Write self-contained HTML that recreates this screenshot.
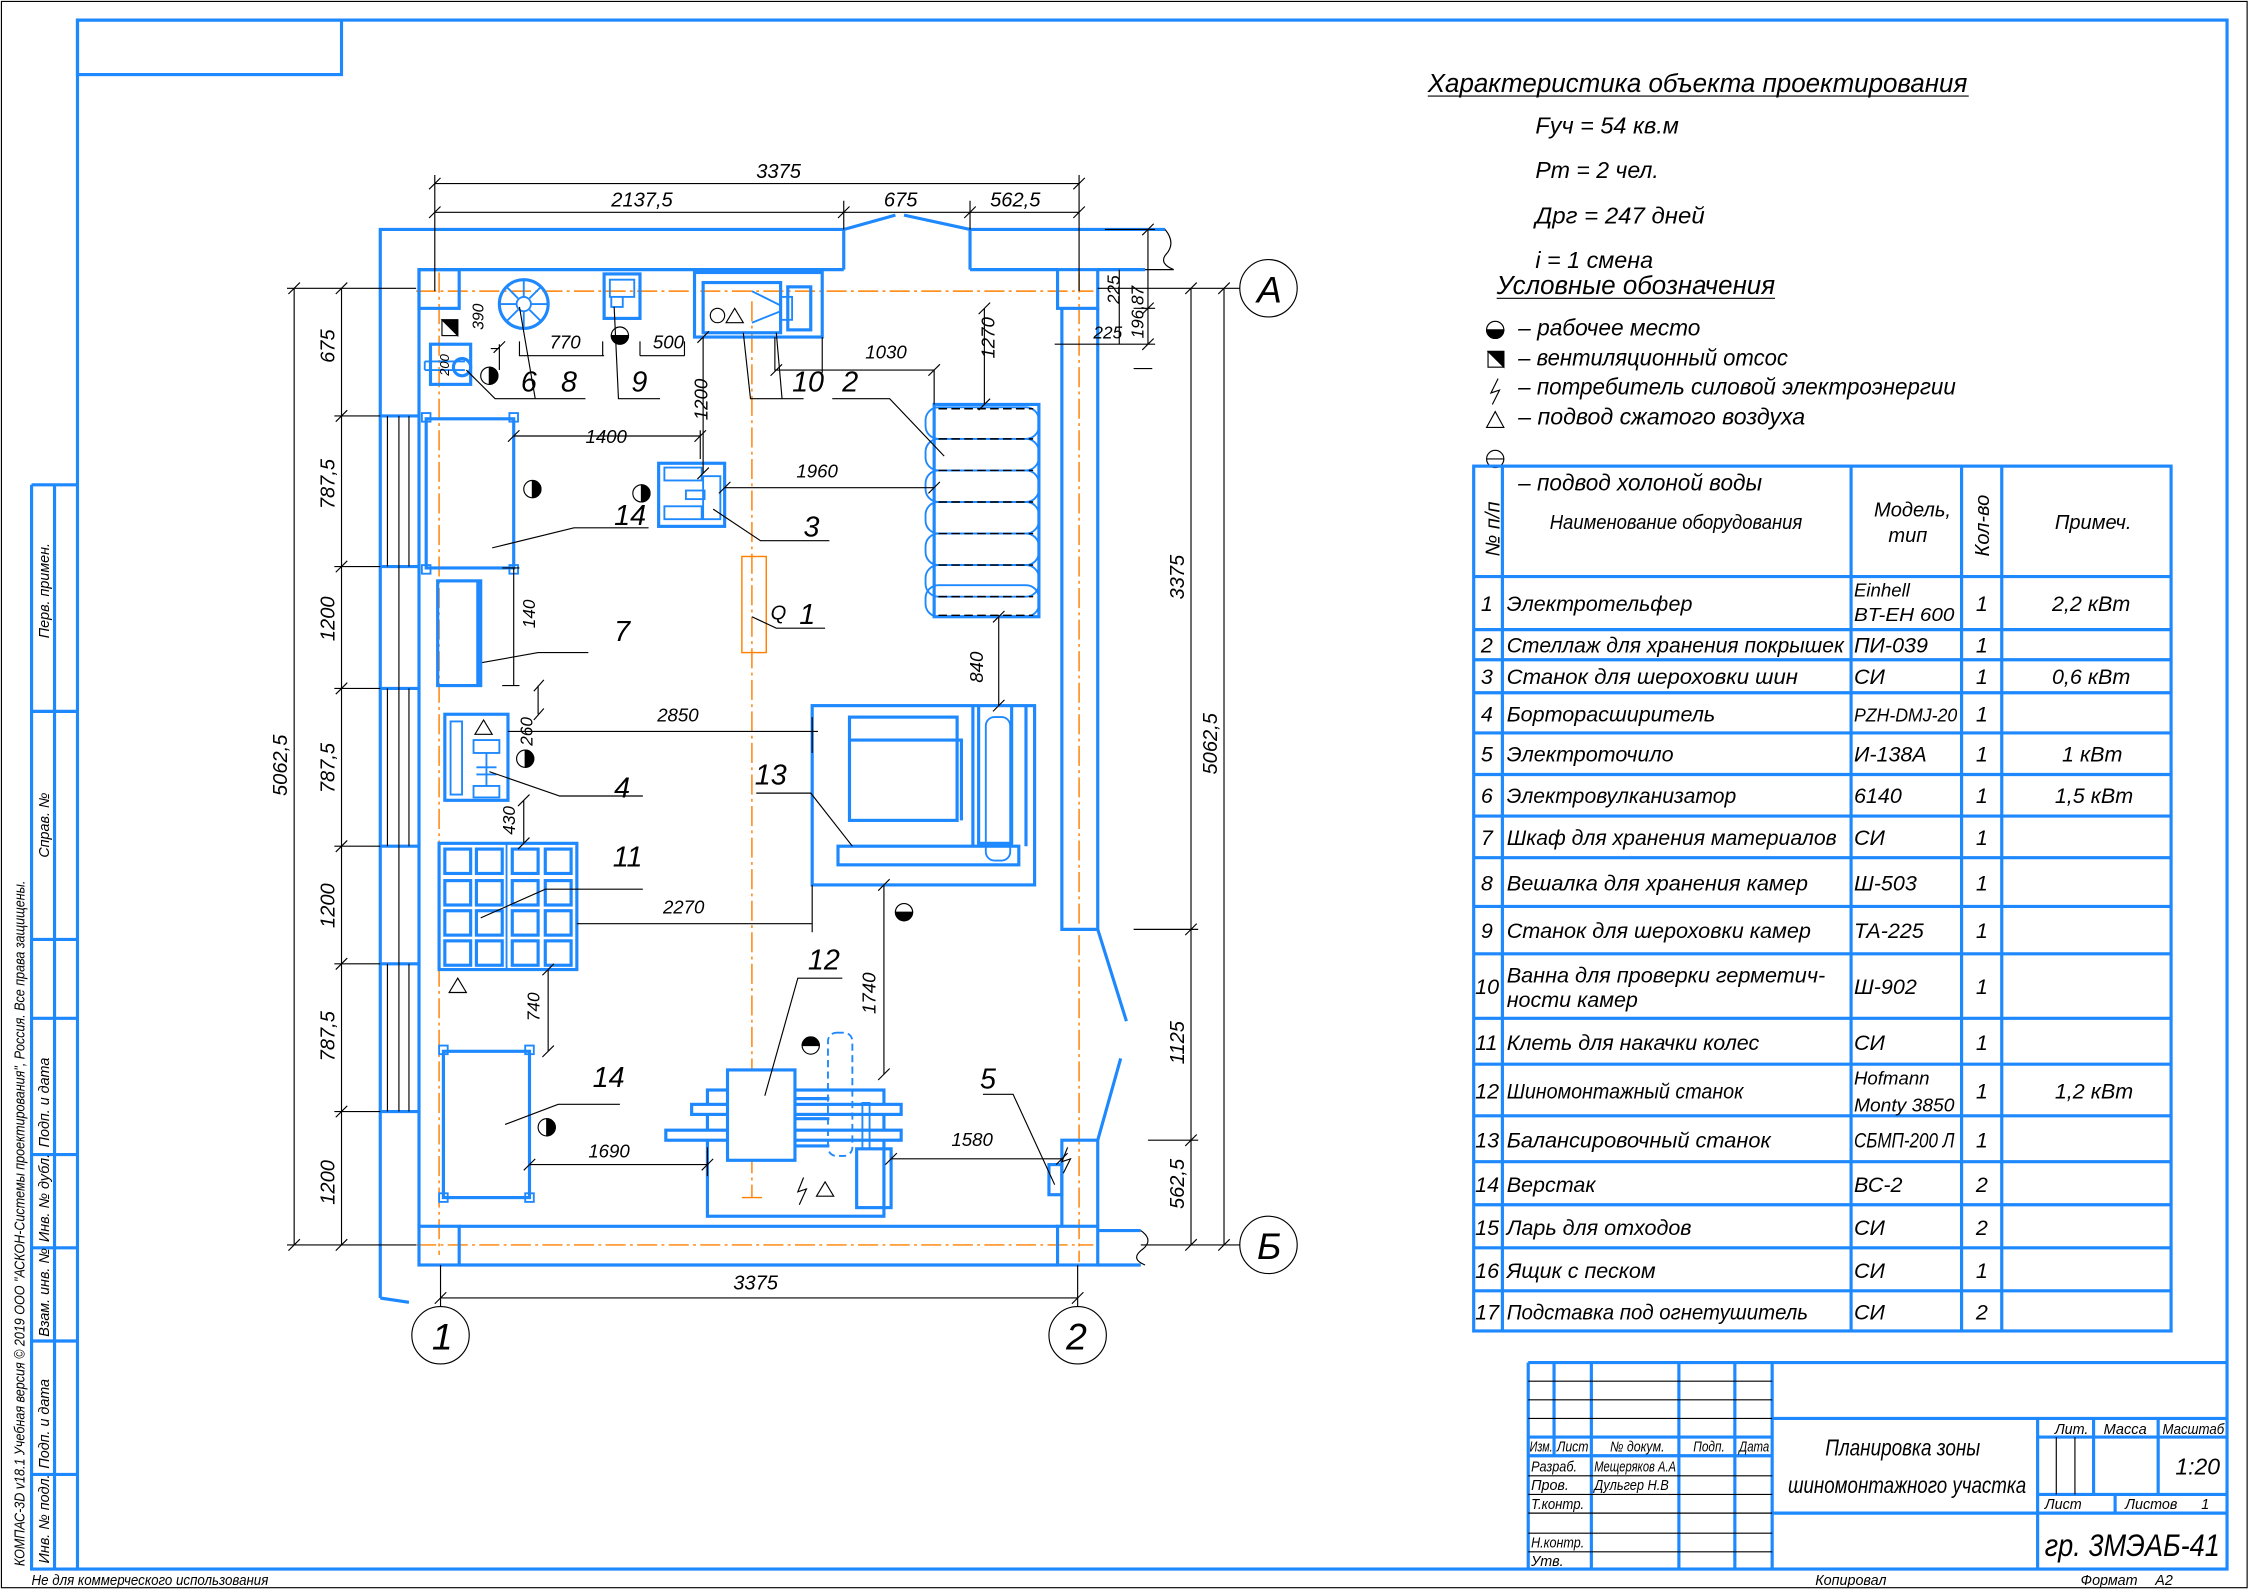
<!DOCTYPE html>
<html><head><meta charset="utf-8"><style>
html,body{margin:0;padding:0;background:#fff}
svg{display:block}
text{font-family:"Liberation Sans","DejaVu Sans",sans-serif;font-style:italic;fill:#000}
.b{stroke:#1e88ff;stroke-width:2.2;fill:none}
.bt{stroke:#1e88ff;stroke-width:1.3;fill:none}
.k{stroke:#000;stroke-width:0.8;fill:none}
.o{stroke:#ff8000;stroke-width:1;fill:none;stroke-dasharray:14 3 2 3}
</style></head><body>
<svg width="2250" height="1592" viewBox="0 0 1568 1110" preserveAspectRatio="none" xmlns="http://www.w3.org/2000/svg">
<rect x="1" y="1" width="1565" height="1106" class="k"/>
<rect x="54" y="14" width="1498" height="1080" class="b"/>
<rect x="54" y="14" width="184" height="38" class="b"/>
<path class="b" d="M22,338 H54 M22,338 V1094 H54 M38,338 V1094 M22,496 H54 M22,655 H54 M22,710 H54 M22,805 H54 M22,870 H54 M22,935 H54 M22,1028 H54"/>
<g font-size="10">
<text transform="translate(34,445) rotate(-90)">Перв. примен.</text>
<text transform="translate(34,598) rotate(-90)">Справ. №</text>
<text transform="translate(34,800) rotate(-90)">Подп. и дата</text>
<text transform="translate(34,866) rotate(-90)">Инв. № дубл.</text>
<text transform="translate(34,932) rotate(-90)">Взам. инв. №</text>
<text transform="translate(34,1024) rotate(-90)">Подп. и дата</text>
<text transform="translate(34,1090) rotate(-90)">Инв. № подл.</text>
<text transform="translate(17,1092) rotate(-90)" textLength="478" lengthAdjust="spacingAndGlyphs">КОМПАС-3D v18.1 Учебная версия © 2019 ООО "АСКОН-Системы проектирования", Россия. Все права защищены.</text>
<text x="22" y="1105" textLength="165" lengthAdjust="spacingAndGlyphs">Не для коммерческого использования</text>
<text x="1265" y="1105">Копировал</text>
<text x="1450" y="1105">Формат</text><text x="1502" y="1105">A2</text>
</g>

<path class="o" d="M290,203 H762 M290,868 H762 M306,190 V875 M752,190 V880 M524,210 V835"/>
<rect x="517" y="388" width="17" height="67" fill="none" stroke="#ff8000" stroke-width="1"/>
<path stroke="#ff8000" stroke-width="1" d="M517,835 H531"/>

<path class="b" d="M265,905 V160 H588 V188 M292,855 V188 H588 M676,188 V160 H812 M676,188 H737 M588,160 L624,150 M630,150 L676,160"/>
<path class="k" d="M812,160 Q820,170 812,178 Q808,184 818,188 M818,188 H765"/>
<path class="b" d="M765,188 H798"/>
<rect x="292" y="188" width="28" height="27" class="b"/>
<rect x="737" y="188" width="28" height="27" class="b"/>
<rect x="292" y="855" width="28" height="27" class="b"/>
<rect x="737" y="855" width="28" height="27" class="b"/>
<path class="b" d="M740,215 V648 H765 V215 M765,648 L785,712 M781,738 L765,795 H740 V855 M765,795 V855 M320,855 H737 M320,882 H737 M765,858 H795 M765,882 H795 M265,905 L285,908"/>
<path class="k" d="M795,858 Q805,865 795,872 Q788,878 798,882"/>
<path class="b" d="M265,290 H292 M265,395 H292 M265,480 H292 M265,590 H292 M265,672 H292 M265,775 H292"/>
<path class="k" d="M270,290 V395 M278,290 V395 M285,290 V395 M270,480 V590 M278,480 V590 M285,480 V590 M270,672 V775 M278,672 V775 M285,672 V775 M278,395 V480 M278,590 V672"/>

<g class="k">
<circle cx="884" cy="201" r="20"/><circle cx="884" cy="868" r="20"/>
<circle cx="307" cy="931" r="20"/><circle cx="751" cy="931" r="20"/>
<path d="M765,201 H864 M795,868 H864 M307,882 V911 M751,882 V911"/>
</g>
<g font-size="26"><text x="876" y="211">A</text><text x="876" y="878">Б</text><text x="301" y="941">1</text><text x="743" y="941">2</text></g>

<g class="k">
<path d="M303,128 H752 M303,148 H752 M303,122 V203 M752,122 V203 M588,140 V160 M676,140 V160"/>
<path d="M299,132 L307,124 M748,132 L756,124 M299,152 L307,144 M584,152 L592,144 M672,152 L680,144 M748,152 L756,144"/>
<path d="M307,905 H751 M303,909 L311,901 M747,909 L755,901"/>
<path d="M205,201 V868 M200,201 H290 M200,868 H290 M201,205 L209,197 M201,872 L209,864"/>
<path d="M238,201 V868 M233,290 H265 M233,395 H265 M233,480 H265 M233,590 H265 M233,672 H265 M233,775 H265"/>
<path d="M234,205 L242,197 M234,294 L242,286 M234,399 L242,391 M234,484 L242,476 M234,594 L242,586 M234,676 L242,668 M234,779 L242,771 M234,872 L242,864"/>
<path d="M853,201 V868 M849,205 L857,197 M849,872 L857,864 M830,201 V868 M826,205 L834,197 M826,652 L834,644 M826,799 L834,791 M826,872 L834,864 M790,648 H835 M800,795 H835"/>
<path d="M800,160 V240 M770,160 H805 M735,240 H805 M790,215 H805 M780,188 V240 M796,164 L804,156 M796,219 L804,211 M796,244 L804,236 M790,257 H803"/>
</g>
<g font-size="14">
<text x="527" y="124">3375</text>
<text x="426" y="144">2137,5</text>
<text x="616" y="144">675</text>
<text x="690" y="144">562,5</text>
<text x="511" y="899">3375</text>
<text transform="translate(200,555) rotate(-90)">5062,5</text>
<text transform="translate(233,253) rotate(-90)">675</text>
<text transform="translate(233,355) rotate(-90)">787,5</text>
<text transform="translate(233,447) rotate(-90)">1200</text>
<text transform="translate(233,553) rotate(-90)">787,5</text>
<text transform="translate(233,647) rotate(-90)">1200</text>
<text transform="translate(233,740) rotate(-90)">787,5</text>
<text transform="translate(233,840) rotate(-90)">1200</text>
<text transform="translate(825,418) rotate(-90)">3375</text>
<text transform="translate(848,540) rotate(-90)">5062,5</text>
<text transform="translate(825,742) rotate(-90)">1125</text>
<text transform="translate(825,843) rotate(-90)">562,5</text>
<text transform="translate(780,212) rotate(-90)" font-size="12">225</text>
<text transform="translate(797,236) rotate(-90)" font-size="12">196,87</text>
<text x="762" y="236" font-size="12">225</text>
</g>

<g class="b">
<circle cx="365" cy="212" r="17"/><circle cx="365" cy="212" r="5" class="bt"/>
<path class="bt" d="M365,195 V207 M365,217 V229 M348,212 H360 M370,212 H382 M353,200 L361,208 M369,216 L377,224 M377,200 L369,208 M361,216 L353,224"/>
<rect x="300" y="240" width="28" height="28"/>
<path class="bt" d="M296,252 H324 M296,258 H324 M296,252 V258"/><circle cx="322" cy="256" r="6"/>
<rect x="421" y="191" width="25" height="31"/><rect x="425" y="195" width="17" height="12" class="bt"/>
<path class="bt" d="M426,207 V214 H434 V207"/>
<rect x="484" y="190" width="89" height="45"/>
<rect x="490" y="197" width="54" height="35"/>
<rect x="549" y="200" width="16" height="30"/><rect x="544" y="207" width="8" height="16" class="bt"/>
<path class="bt" d="M524,203 L544,213 M524,225 L544,217"/>
<rect x="651" y="282" width="73" height="148"/>
<rect x="459" y="323" width="46" height="44"/><rect x="463" y="326" width="26" height="9" class="bt"/><rect x="463" y="353" width="26" height="9" class="bt"/><rect x="490" y="332" width="12" height="30" class="bt"/><rect x="478" y="342" width="13" height="6" class="bt"/>
<rect x="297" y="292" width="61" height="104"/>
<rect x="294" y="288" width="6" height="6" class="bt"/><rect x="355" y="288" width="6" height="6" class="bt"/><rect x="294" y="394" width="6" height="6" class="bt"/><rect x="355" y="394" width="6" height="6" class="bt"/>
<rect x="305" y="405" width="30" height="73"/><path d="M333,405 V478"/>
<rect x="310" y="498" width="44" height="60"/><rect x="314" y="503" width="8" height="51" class="bt"/>
<rect x="330" y="516" width="18" height="9" class="bt"/><rect x="330" y="548" width="18" height="8" class="bt"/><path class="bt" d="M339,525 V548 M332,535 H346 M332,540 H346"/>
<rect x="306" y="588" width="96" height="88"/><path class="bt" d="M353,588 V676"/>
</g>
<g class="b" stroke-width="1.8">
<rect x="310" y="592" width="18" height="17"/><rect x="332" y="592" width="18" height="17"/><rect x="357" y="592" width="18" height="17"/><rect x="380" y="592" width="18" height="17"/>
<rect x="310" y="614" width="18" height="17"/><rect x="332" y="614" width="18" height="17"/><rect x="357" y="614" width="18" height="17"/><rect x="380" y="614" width="18" height="17"/>
<rect x="310" y="635" width="18" height="17"/><rect x="332" y="635" width="18" height="17"/><rect x="357" y="635" width="18" height="17"/><rect x="380" y="635" width="18" height="17"/>
<rect x="310" y="656" width="18" height="17"/><rect x="332" y="656" width="18" height="17"/><rect x="357" y="656" width="18" height="17"/><rect x="380" y="656" width="18" height="17"/>
</g>
<g class="b">
<rect x="309" y="733" width="60" height="102"/>
<rect x="306" y="729" width="6" height="6" class="bt"/><rect x="366" y="729" width="6" height="6" class="bt"/><rect x="306" y="832" width="6" height="6" class="bt"/><rect x="366" y="832" width="6" height="6" class="bt"/>
<rect x="566" y="492" width="155" height="125"/>
<rect x="592" y="500" width="75" height="72"/><path d="M592,516 H670 V572"/>
<rect x="584" y="590" width="126" height="13"/>
<path d="M678,492 V590 M715,492 V590 M682,492 V588 H705 V492"/>
<rect x="687" y="500" width="17" height="100" rx="6" class="bt"/>
<rect x="493" y="760" width="123" height="88"/>
<rect x="482" y="770" width="146" height="7" fill="#fff"/>
<rect x="464" y="788" width="164" height="7" fill="#fff"/>
<rect x="507" y="746" width="47" height="63" fill="#fff"/>
<path d="M554,766 H578 M554,780 H578 M554,799 H578"/>
<rect x="597" y="801" width="24" height="41"/><rect x="601" y="769" width="5" height="32" class="bt"/>
<rect x="577" y="720" width="17" height="86" rx="6" class="bt" stroke-dasharray="5 3"/>
<rect x="731" y="812" width="9" height="21"/>
</g>
<g class="bt">
<rect x="645" y="284" width="79" height="22" rx="9"/><rect x="645" y="306" width="79" height="22" rx="9"/><rect x="645" y="328" width="79" height="22" rx="9"/><rect x="645" y="350" width="79" height="22" rx="9"/><rect x="645" y="372" width="79" height="22" rx="9"/><rect x="645" y="394" width="79" height="22" rx="9"/><rect x="645" y="408" width="79" height="22" rx="9"/>
</g>
<path stroke="#000" stroke-width="1" stroke-dasharray="6 3" d="M654,285 H720 M654,306 H720 M654,328 H720 M654,350 H720 M654,372 H720 M654,394 H720 M654,416 H720 M654,429 H720"/>

<g fill="#000" stroke="#000" stroke-width="0.8">
<path d="M371,335 a6,6 0 0 1 0,12 z"/><circle cx="371" cy="341" r="6" fill="none"/>
<path d="M447,338 a6,6 0 0 1 0,12 z"/><circle cx="447" cy="344" r="6" fill="none"/>
<path d="M366,523 a6,6 0 0 1 0,12 z"/><circle cx="366" cy="529" r="6" fill="none"/>
<path d="M381,780 a6,6 0 0 1 0,12 z"/><circle cx="381" cy="786" r="6" fill="none"/>
<path d="M341,256 a6,6 0 0 1 0,12 z"/><circle cx="341" cy="262" r="6" fill="none"/>
<path d="M426,234 a6,6 0 0 0 12,0 z"/><circle cx="432" cy="234" r="6" fill="none"/>
<path d="M624,636 a6,6 0 0 0 12,0 z"/><circle cx="630" cy="636" r="6" fill="none"/>
<path d="M559,729 a6,6 0 0 1 12,0 z"/><circle cx="565" cy="729" r="6" fill="none"/>
<path d="M308,223 H319 V234 Z"/><rect x="308" y="223" width="11" height="11" fill="none"/>
</g>
<g class="k" stroke-width="1">
<path d="M313,692 L319,682 L325,692 Z M569,834 L575,824 L581,834 Z M331,512 L337,502 L343,512 Z M506,225 L512,215 L518,225 Z"/>
<circle cx="500" cy="220" r="5"/>
<path d="M560,821 L556,831 L562,829 L557,840"/>
<path d="M744,800 L740,810 L746,808 L741,818"/>
</g>

<g class="k">
<path d="M358,304 H488 M488,300 V320 M354,308 L362,300 M484,308 L492,300"/>
<path d="M505,340 H651 M501,344 L509,336 M647,344 L655,336"/>
<path d="M490,235 V330 M486,239 L494,231 M486,334 L494,326"/>
<path d="M540,235 V258 H651 V282 M537,262 L545,254 M647,262 L655,254 M573,235 V260"/>
<path d="M686,215 V282 M682,219 L690,211 M682,286 L690,278"/>
<path d="M696,430 V492 M692,434 L700,426 M692,496 L700,488"/>
<path d="M342,243 H348 M348,240 V258 M344,246 L352,238"/>
<path d="M362,238 V248 H421 M420,238 V248 M446,248 H477 M446,238 V248 M477,238 V248"/>
<path d="M358,396 V478 M350,396 H362 M350,478 H362"/>
<path d="M354,510 H570 M566,500 V525"/>
<path d="M375,478 V498 M372,482 L379,474 M372,502 L379,494"/>
<path d="M365,558 V588 M361,562 L369,554 M361,592 L369,584"/>
<path d="M402,644 H566 M566,617 V650"/>
<path d="M382,676 V733 M378,680 L386,672 M378,737 L386,729"/>
<path d="M369,812 H493 M493,800 V820 M365,816 L373,808 M489,816 L497,808"/>
<path d="M616,617 V749 M612,621 L620,613 M612,753 L620,745"/>
<path d="M621,808 H740 M617,812 L625,804 M736,812 L744,804"/>
<path d="M325,258 L345,278 H375 M362,214 L373,278 H408 M428,214 L431,278 H460 M518,232 L523,278 H560 M541,232 L545,278 M580,278 H620 L658,318 M497,355 L530,377 H578 M524,430 L541,438 H575 M343,382 L400,368 H452 M336,462 L375,455 H410 M341,538 L390,555 H448 M335,640 L380,620 H448 M352,784 L389,770 H432 M533,764 L556,682 H587 M594,590 L565,553 H527 M735,826 L706,763 H685"/>
</g>
<g font-size="13">
<text x="408" y="309">1400</text>
<text x="555" y="333">1960</text>
<text x="603" y="250">1030</text>
<text transform="translate(693,250) rotate(-90)">1270</text>
<text transform="translate(493,293) rotate(-90)">1200</text>
<text transform="translate(685,476) rotate(-90)">840</text>
<text transform="translate(337,230) rotate(-90)" font-size="11">390</text>
<text transform="translate(313,262) rotate(-90)" font-size="9">200</text>
<text x="383" y="243">770</text>
<text x="455" y="243">500</text>
<text transform="translate(373,438) rotate(-90)" font-size="12">140</text>
<text x="458" y="503">2850</text>
<text transform="translate(371,520) rotate(-90)" font-size="12">260</text>
<text transform="translate(359,582) rotate(-90)" font-size="12">430</text>
<text x="462" y="637">2270</text>
<text transform="translate(376,712) rotate(-90)" font-size="12">740</text>
<text transform="translate(610,707) rotate(-90)">1740</text>
<text x="410" y="807">1690</text>
<text x="663" y="799">1580</text>
</g>
<g font-size="20">
<text x="363" y="273">6</text><text x="391" y="273">8</text><text x="440" y="273">9</text><text x="552" y="273">10</text><text x="587" y="273">2</text>
<text x="560" y="374">3</text><text x="557" y="435">1</text><text x="537" y="432" font-size="14">Q</text>
<text x="428" y="366">14</text><text x="428" y="447">7</text><text x="428" y="556">4</text><text x="427" y="604">11</text>
<text x="526" y="547">13</text><text x="563" y="676">12</text><text x="413" y="758">14</text><text x="683" y="759">5</text>
</g>

<g font-size="18">
<text x="995" y="64" textLength="376" lengthAdjust="spacingAndGlyphs">Характеристика объекта проектирования</text>
<text x="1070" y="93" font-size="16" textLength="100" lengthAdjust="spacingAndGlyphs">Fуч = 54 кв.м</text>
<text x="1070" y="124" font-size="16" textLength="86" lengthAdjust="spacingAndGlyphs">Рт = 2 чел.</text>
<text x="1070" y="156" font-size="16" textLength="118" lengthAdjust="spacingAndGlyphs">Дрг = 247 дней</text>
<text x="1070" y="187" font-size="16" textLength="82" lengthAdjust="spacingAndGlyphs">i = 1 смена</text>
<text x="1043" y="205" textLength="194" lengthAdjust="spacingAndGlyphs">Условные обозначения</text>
</g>
<path class="k" d="M995,67 H1372 M1043,208 H1237"/>
<g font-size="16">
<text x="1058" y="234" textLength="127" lengthAdjust="spacingAndGlyphs">– рабочее место</text>
<text x="1058" y="255" textLength="188" lengthAdjust="spacingAndGlyphs">– вентиляционный отсос</text>
<text x="1058" y="275" textLength="305" lengthAdjust="spacingAndGlyphs">– потребитель силовой электроэнергии</text>
<text x="1058" y="296" textLength="200" lengthAdjust="spacingAndGlyphs">– подвод сжатого воздуха</text>
<text x="1058" y="342" textLength="170" lengthAdjust="spacingAndGlyphs">– подвод холоной воды</text>
</g>
<g fill="#000" stroke="#000" stroke-width="0.8">
<path d="M1036,230 a6,6 0 0 0 12,0 z"/><circle cx="1042" cy="230" r="6" fill="none"/>
<path d="M1037,245 H1048 V256 Z"/><rect x="1037" y="245" width="11" height="11" fill="none"/>
<path d="M1036,298 L1042,287 L1048,298 Z" fill="none"/>
<path d="M1044,264 L1039,274 L1045,272 L1040,282" fill="none"/>
<circle cx="1042" cy="320" r="6" fill="none"/><path d="M1036,320 H1048" fill="none"/>
</g>

<g class="b">
<rect x="1027" y="325" width="486" height="603"/>
<path d="M1047,325 V928 M1290,325 V928 M1367,325 V928 M1395,325 V928 M1027,402 H1513 M1027,439 H1513 M1027,460 H1513 M1027,483 H1513 M1027,511 H1513 M1027,540 H1513 M1027,569 H1513 M1027,598 H1513 M1027,632 H1513 M1027,665 H1513 M1027,710 H1513 M1027,742 H1513 M1027,778 H1513 M1027,810 H1513 M1027,840 H1513 M1027,870 H1513 M1027,900 H1513"/>
</g>
<g font-size="14">
<text transform="translate(1045,388) rotate(-90)">№ п/п</text>
<text x="1080" y="369" textLength="176" lengthAdjust="spacingAndGlyphs">Наименование оборудования</text>
<text x="1306" y="360">Модель,</text><text x="1316" y="378">тип</text>
<text transform="translate(1386,388) rotate(-90)">Кол-во</text>
<text x="1432" y="369">Примеч.</text>
</g>
<g font-size="15">
<text x="1032" y="426">1</text><text x="1050" y="426">Электротельфер</text><text x="1292" y="416" font-size="13">Einhell</text><text x="1292" y="433" font-size="13" textLength="70" lengthAdjust="spacingAndGlyphs">BT-EH 600</text><text x="1377" y="426">1</text><text x="1430" y="426">2,2 кВт</text>
<text x="1032" y="455">2</text><text x="1050" y="455" textLength="235" lengthAdjust="spacingAndGlyphs">Стеллаж для хранения покрышек</text><text x="1292" y="455">ПИ-039</text><text x="1377" y="455">1</text>
<text x="1032" y="477">3</text><text x="1050" y="477" textLength="203" lengthAdjust="spacingAndGlyphs">Станок для шероховки шин</text><text x="1292" y="477">СИ</text><text x="1377" y="477">1</text><text x="1430" y="477">0,6 кВт</text>
<text x="1032" y="503">4</text><text x="1050" y="503">Борторасширитель</text><text x="1292" y="503" font-size="13" textLength="72" lengthAdjust="spacingAndGlyphs">PZH-DMJ-20</text><text x="1377" y="503">1</text>
<text x="1032" y="531">5</text><text x="1050" y="531">Электроточило</text><text x="1292" y="531">И-138А</text><text x="1377" y="531">1</text><text x="1437" y="531">1 кВт</text>
<text x="1032" y="560">6</text><text x="1050" y="560" textLength="160" lengthAdjust="spacingAndGlyphs">Электровулканизатор</text><text x="1292" y="560">6140</text><text x="1377" y="560">1</text><text x="1432" y="560">1,5 кВт</text>
<text x="1032" y="589">7</text><text x="1050" y="589" textLength="230" lengthAdjust="spacingAndGlyphs">Шкаф для хранения материалов</text><text x="1292" y="589">СИ</text><text x="1377" y="589">1</text>
<text x="1032" y="621">8</text><text x="1050" y="621" textLength="210" lengthAdjust="spacingAndGlyphs">Вешалка для хранения камер</text><text x="1292" y="621">Ш-503</text><text x="1377" y="621">1</text>
<text x="1032" y="654">9</text><text x="1050" y="654" textLength="212" lengthAdjust="spacingAndGlyphs">Станок для шероховки камер</text><text x="1292" y="654">ТА-225</text><text x="1377" y="654">1</text>
<text x="1028" y="693">10</text><text x="1050" y="685" textLength="222" lengthAdjust="spacingAndGlyphs">Ванна для проверки герметич-</text><text x="1050" y="702">ности камер</text><text x="1292" y="693">Ш-902</text><text x="1377" y="693">1</text>
<text x="1028" y="732">11</text><text x="1050" y="732" textLength="176" lengthAdjust="spacingAndGlyphs">Клеть для накачки колес</text><text x="1292" y="732">СИ</text><text x="1377" y="732">1</text>
<text x="1028" y="766">12</text><text x="1050" y="766" textLength="165" lengthAdjust="spacingAndGlyphs">Шиномонтажный станок</text><text x="1292" y="756" font-size="13">Hofmann</text><text x="1292" y="775" font-size="13" textLength="70" lengthAdjust="spacingAndGlyphs">Monty 3850</text><text x="1377" y="766">1</text><text x="1432" y="766">1,2 кВт</text>
<text x="1028" y="800">13</text><text x="1050" y="800" textLength="184" lengthAdjust="spacingAndGlyphs">Балансировочный станок</text><text x="1292" y="800" textLength="70" lengthAdjust="spacingAndGlyphs">СБМП-200 Л</text><text x="1377" y="800">1</text>
<text x="1028" y="831">14</text><text x="1050" y="831">Верстак</text><text x="1292" y="831">ВС-2</text><text x="1377" y="831">2</text>
<text x="1028" y="861">15</text><text x="1050" y="861">Ларь для отходов</text><text x="1292" y="861">СИ</text><text x="1377" y="861">2</text>
<text x="1028" y="891">16</text><text x="1050" y="891">Ящик с песком</text><text x="1292" y="891">СИ</text><text x="1377" y="891">1</text>
<text x="1028" y="920">17</text><text x="1050" y="920" textLength="210" lengthAdjust="spacingAndGlyphs">Подставка под огнетушитель</text><text x="1292" y="920">СИ</text><text x="1377" y="920">2</text>
</g>

<g class="b">
<path d="M1065,950 H1552 M1065,950 V1094 M1083,950 V1015 M1109,950 V1094 M1170,950 V1094 M1209,950 V1094 M1235,950 V1094 M1420,989 V1094 M1459,989 V1042 M1504,989 V1042 M1474,1042 V1055 M1235,989 H1552 M1420,1002 H1552 M1420,1042 H1552 M1235,1055 H1552 M1065,1002 H1235 M1065,1015 H1235"/>
</g>
<path class="k" stroke-width="1.2" d="M1065,963 H1235 M1065,976 H1235 M1065,989 H1235 M1065,1029 H1235 M1065,1042 H1235 M1065,1055 H1235 M1065,1069 H1235 M1065,1082 H1235 M1433,1002 V1042 M1446,1002 V1042"/>
<g font-size="10">
<text x="1066" y="1012" textLength="16" lengthAdjust="spacingAndGlyphs">Изм.</text><text x="1085" y="1012" textLength="22" lengthAdjust="spacingAndGlyphs">Лист</text><text x="1122" y="1012" textLength="38" lengthAdjust="spacingAndGlyphs">№ докум.</text><text x="1180" y="1012" textLength="22" lengthAdjust="spacingAndGlyphs">Подп.</text><text x="1212" y="1012" textLength="21" lengthAdjust="spacingAndGlyphs">Дата</text>
<text x="1067" y="1026" textLength="32" lengthAdjust="spacingAndGlyphs">Разраб.</text><text x="1111" y="1026" textLength="57" lengthAdjust="spacingAndGlyphs">Мещеряков А.А</text>
<text x="1067" y="1039">Пров.</text><text x="1111" y="1039" textLength="52" lengthAdjust="spacingAndGlyphs">Дульгер Н.В</text>
<text x="1067" y="1052" textLength="37" lengthAdjust="spacingAndGlyphs">Т.контр.</text>
<text x="1067" y="1079" textLength="37" lengthAdjust="spacingAndGlyphs">Н.контр.</text>
<text x="1067" y="1092">Утв.</text>
<text x="1432" y="1000">Лит.</text><text x="1466" y="1000" textLength="30" lengthAdjust="spacingAndGlyphs">Масса</text><text x="1507" y="1000" textLength="43" lengthAdjust="spacingAndGlyphs">Масштаб</text>
<text x="1425" y="1052">Лист</text><text x="1481" y="1052">Листов</text><text x="1534" y="1052">1</text>
</g>
<text x="1272" y="1015" font-size="16" textLength="108" lengthAdjust="spacingAndGlyphs">Планировка зоны</text>
<text x="1246" y="1041" font-size="16" textLength="166" lengthAdjust="spacingAndGlyphs">шиномонтажного участка</text>
<text x="1516" y="1028" font-size="16">1:20</text>
<text x="1425" y="1085" font-size="22" textLength="122" lengthAdjust="spacingAndGlyphs">гр. 3МЭАБ-41</text>
</svg>
</body></html>
